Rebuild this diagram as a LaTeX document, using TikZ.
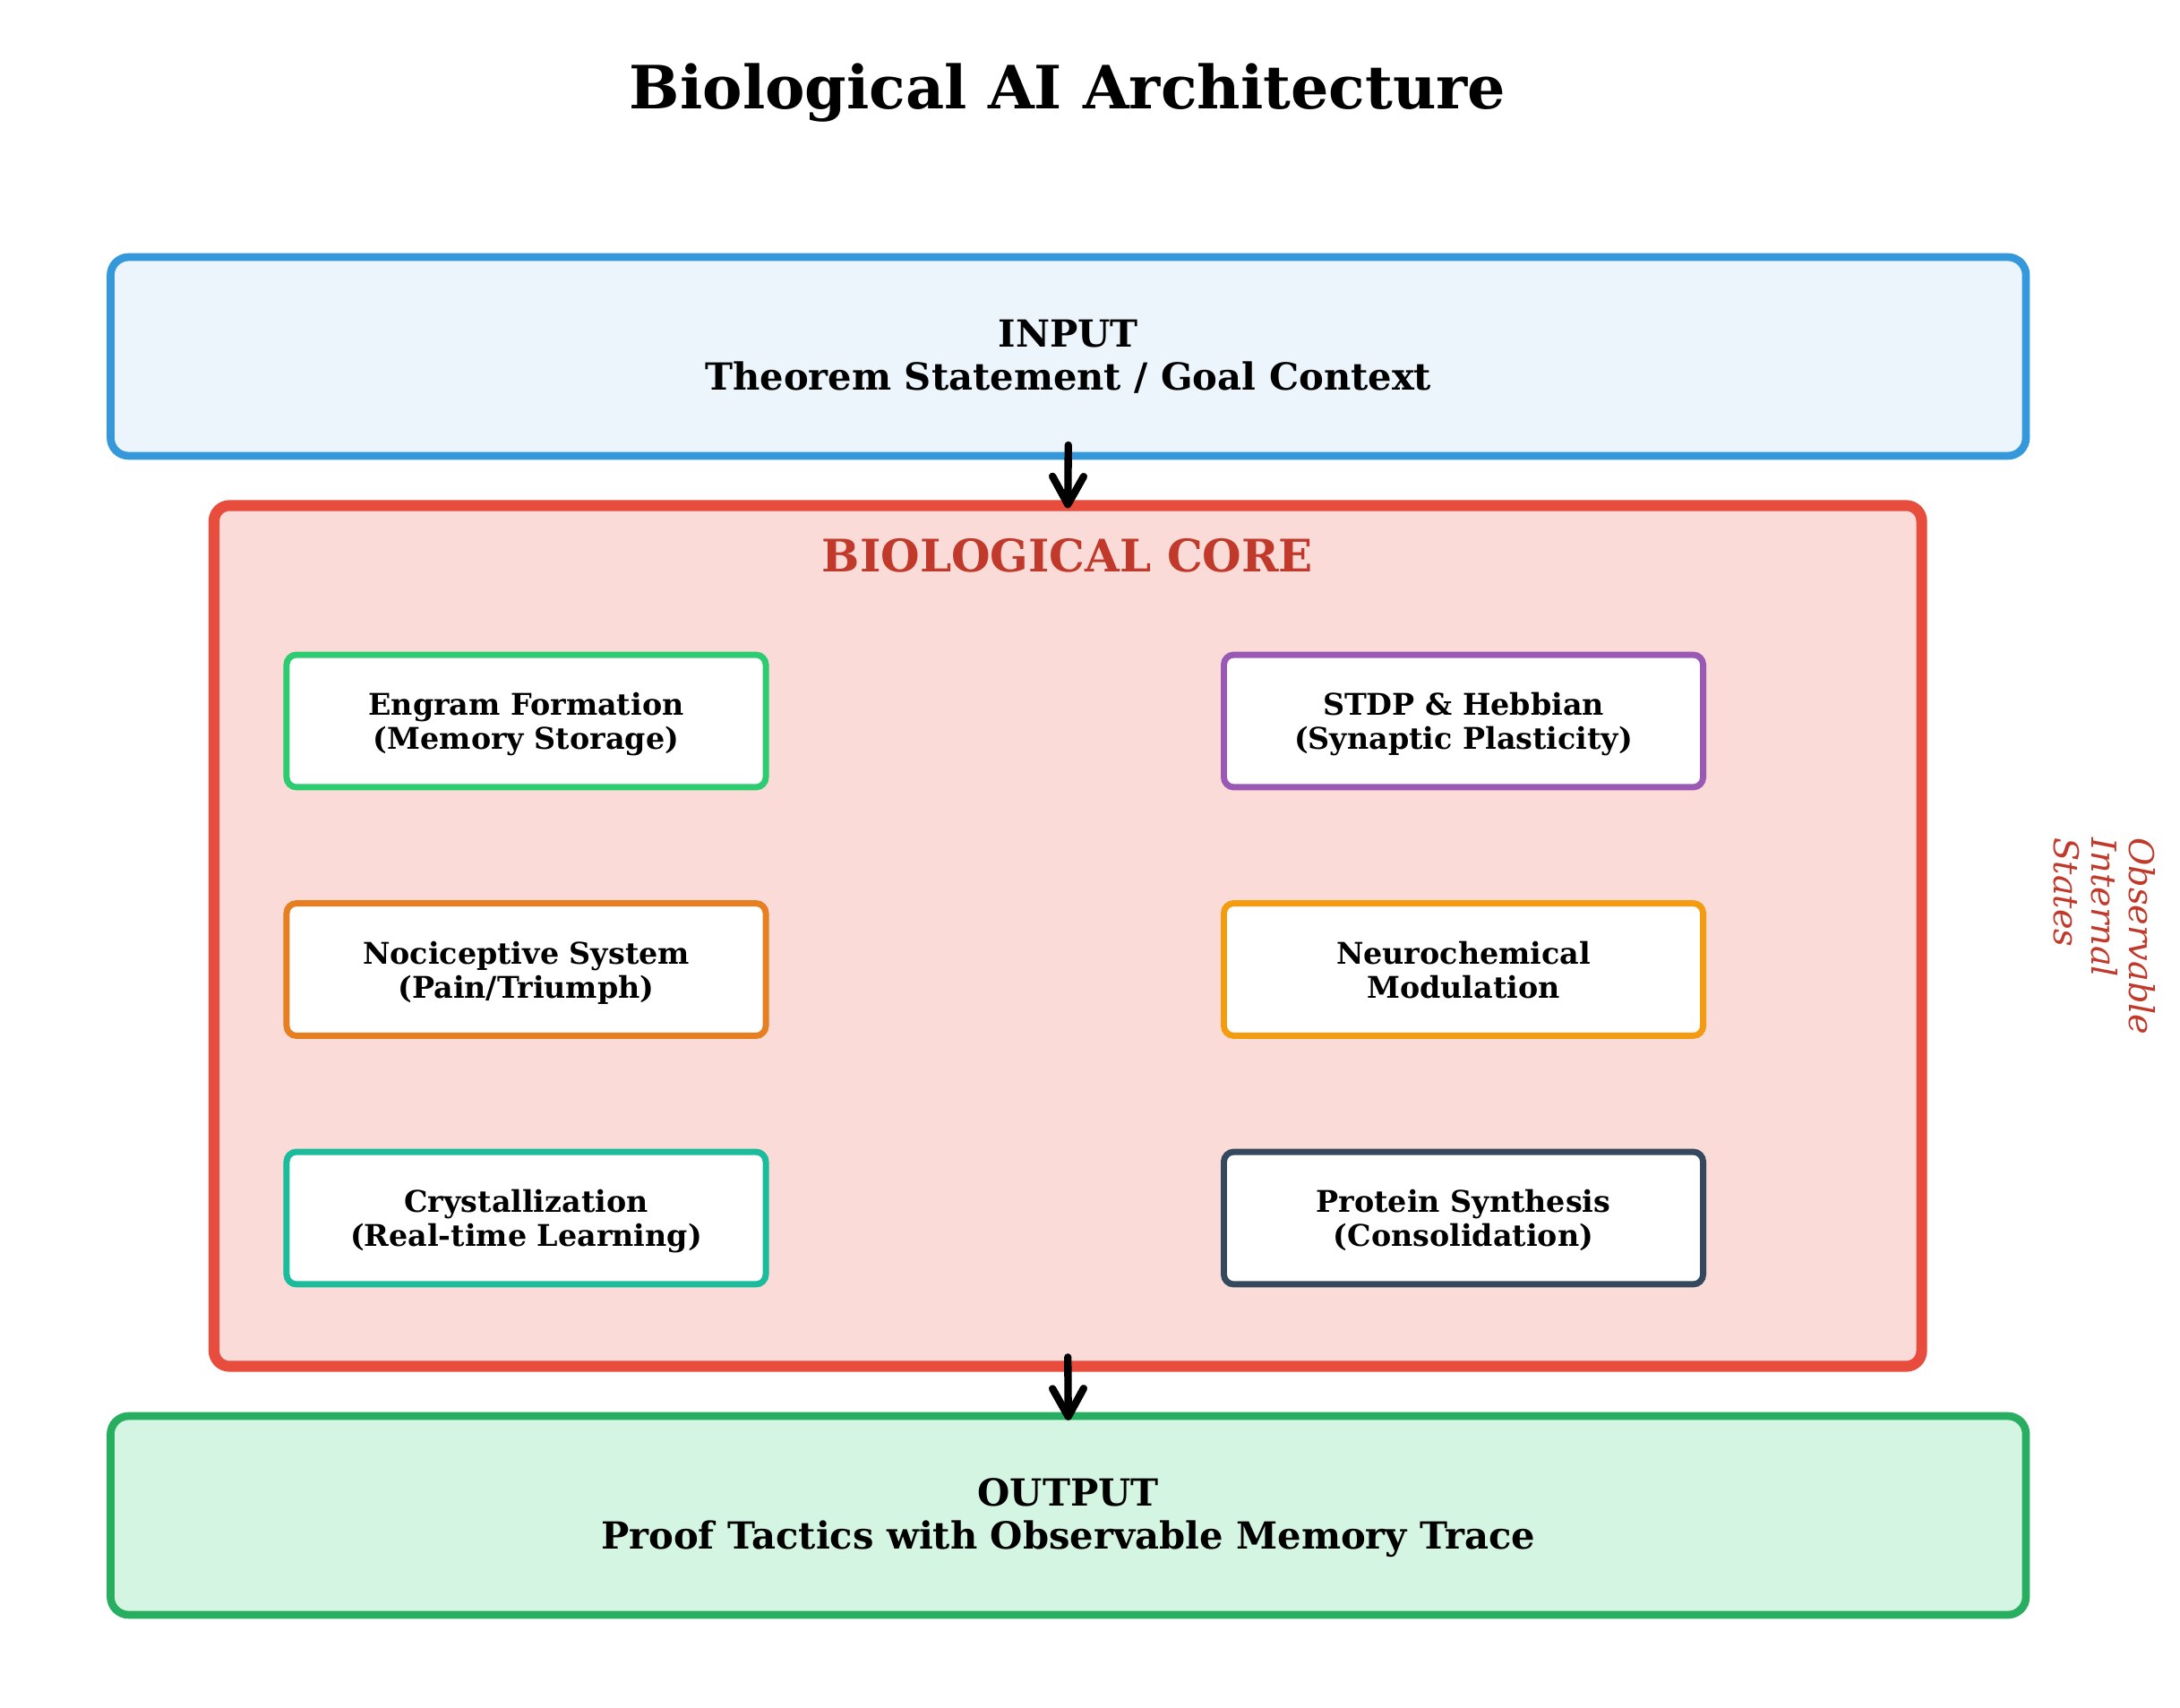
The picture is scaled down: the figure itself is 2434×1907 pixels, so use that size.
\documentclass[tikz,border=0pt]{standalone}
\usepackage{fontspec}
\setmainfont{DejaVu Serif}
\usetikzlibrary{arrows.meta}

\definecolor{inblue}{HTML}{3498DB}
\definecolor{infill}{HTML}{EBF5FB}
\definecolor{corered}{HTML}{E74C3C}
\definecolor{corefill}{HTML}{FADBD8}
\definecolor{coretext}{HTML}{C0392B}
\definecolor{outgreen}{HTML}{27AE60}
\definecolor{outfill}{HTML}{D5F5E3}
\definecolor{cgreen}{HTML}{2ECC71}
\definecolor{cpurple}{HTML}{9B59B6}
\definecolor{corange}{HTML}{E67E22}
\definecolor{cyellow}{HTML}{F39C12}
\definecolor{cteal}{HTML}{1ABC9C}
\definecolor{cnavy}{HTML}{34495E}

\begin{document}
\begin{tikzpicture}[x=0.288pt, y=-0.288pt,
  iobox/.style={draw, rounded corners=5.8pt, line width=2.5pt, align=center,
    minimum width=615.9pt, minimum height=63.9pt, inner sep=0pt,
    font=\fontsize{12}{13.8}\selectfont\bfseries},
  module/.style={draw, fill=white, rounded corners=3.2pt, line width=2pt, align=center,
    minimum width=154.1pt, minimum height=42.6pt, inner sep=0pt, text depth=0pt,
    font=\fontsize{9.6}{10.9}\selectfont\bfseries},
  flow/.style={-{Straight Barb[length=9pt, width=10pt, round]}, line width=2.4pt, line cap=round}]
\useasboundingbox (0,0) rectangle (2434,1907);

\node[anchor=base, font=\fontsize{19.2}{23}\selectfont\bfseries] (title) at (1192, 121.7) {Biological AI Architecture};

\node[iobox, fill=infill, draw=inblue] (input) at (1192.75, 398) {INPUT\\Theorem Statement / Goal Context};
\node[draw=corered, fill=corefill, line width=3.5pt, rounded corners=5pt,
  minimum width=549.1pt, minimum height=276.8pt] (core) at (1192.25, 1045) {};
\node[iobox, fill=outfill, draw=outgreen, text depth=1pt] (output) at (1192.75, 1692) {OUTPUT\\Proof Tactics with Observable Memory Trace};

\node[anchor=base, text=coretext, font=\fontsize{14.4}{17}\selectfont\bfseries] (coretitle) at (1192, 638.3) {BIOLOGICAL CORE};

% modules inside the core
\node[module, draw=cgreen]  (engram)    at (587.5, 805)    {Engram Formation\\(Memory Storage)};
\node[module, draw=cpurple] (stdp)      at (1634, 805)     {STDP \& Hebbian\\(Synaptic Plasticity)};
\node[module, draw=corange] (pain)      at (587.5, 1082.5) {Nociceptive System\\(Pain/Triumph)};
\node[module, draw=cyellow] (neurochem) at (1634, 1082.5)  {Neurochemical\\Modulation};
\node[module, draw=cteal]   (crystal)   at (587.5, 1360)   {Crystallization\\(Real-time Learning)};
\node[module, draw=cnavy]   (protein)   at (1634, 1360)    {Protein Synthesis\\(Consolidation)};

\node[rotate=-90, align=left, text=coretext, font=\fontsize{11}{12.1}\selectfont\itshape] (states) at (2350, 1045.5) {Observable\\Internal\\States};

\foreach \from/\to in {input/core, core/output}
\draw[flow] ([yshift=4.7pt]\from.south) -- ([yshift=-2.6pt]\to.north);
\end{tikzpicture}
\end{document}
